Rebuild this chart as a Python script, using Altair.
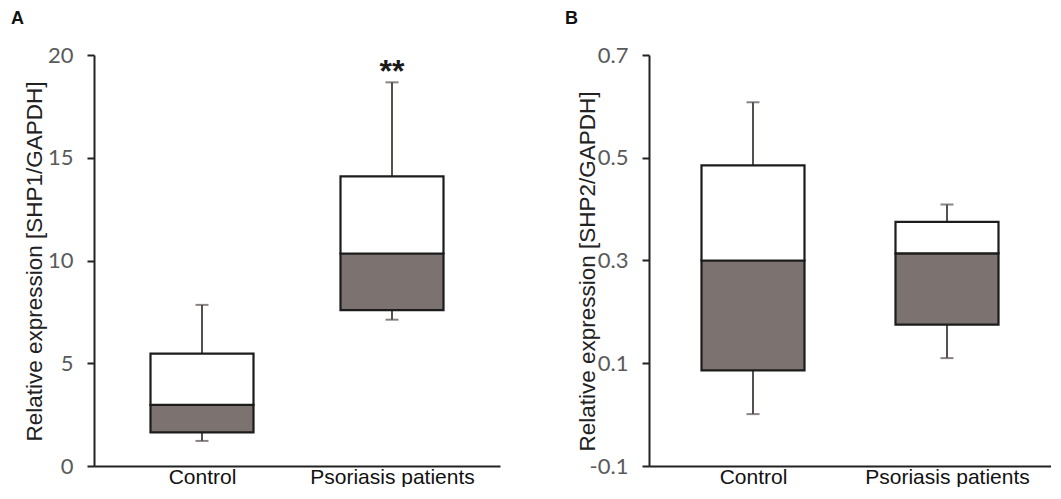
import altair as alt
import pandas as pd

categories = ["Control", "Psoriasis patients"]

a_low = [1.22, 7.12]
a_q1 = [1.64, 7.59]
a_med = [2.97, 10.34]
a_q3 = [5.47, 14.09]
a_high = [7.84, 18.67]
a_sig = ["", "**"]
a_ticks = [0, 5, 10, 15, 20]

b_low = [0.001, 0.11]
b_q1 = [0.086, 0.175]
b_med = [0.300, 0.314]
b_q3 = [0.485, 0.375]
b_high = [0.608, 0.409]
b_sig = ["", ""]
b_ticks = [-0.1, 0.1, 0.3, 0.5, 0.7]

GRAY = "#7c7370"
WHISK = "#57504e"
EDGE = "#1c1c1c"


def panel(letter, low, q1, med, q3, high, sig, ticks, title, fmt, width, height,
          pad, letter_x, letter_y, title_x, title_y):
    df = pd.DataFrame({"cat": categories, "low": low, "q1": q1, "med": med,
                       "q3": q3, "high": high, "sig": sig})
    x = alt.X("cat:N", sort=categories,
              scale=alt.Scale(type="point", padding=pad),
              axis=alt.Axis(title=None, labelAngle=0, ticks=False,
                            labelFont="Liberation Sans", labelFontSize=21,
                            labelColor="#111111", labelPadding=17,
                            labelBaseline="alphabetic",
                            domainColor="#222222", domainWidth=2))
    yscale = alt.Scale(domain=[ticks[0], ticks[-1]], nice=False, zero=False)
    label_expr = ("datum.value < 0 ? '-' + format(-datum.value, '%s') : format(datum.value, '%s')"
                  % (fmt, fmt))
    yaxis = alt.Axis(values=ticks, labelExpr=label_expr, title=title, grid=False,
                     tickSize=7, tickWidth=2, tickColor="#222222",
                     domainColor="#222222", domainWidth=2,
                     labelFont="Lato", labelFontSize=22, labelColor="#5a5a5a",
                     labelPadding=14,
                     titleFont="Liberation Sans", titleFontSize=22.5,
                     titleFontWeight="normal", titleColor="#222222",
                     titleAngle=270, titleBaseline="alphabetic",
                     titleAlign="center", titleX=title_x, titleY=title_y)

    def Y(field):
        return alt.Y(field + ":Q", scale=yscale, axis=yaxis)

    base = alt.Chart(df)
    wt = base.mark_rule(color=WHISK, strokeWidth=2).encode(x=x, y=Y("q3"), y2="high:Q")
    wb = base.mark_rule(color=WHISK, strokeWidth=2).encode(x=x, y=Y("low"), y2="q1:Q")
    ct = base.mark_tick(color=WHISK, size=13, thickness=2).encode(x=x, y=Y("high"))
    cb = base.mark_tick(color=WHISK, size=13, thickness=2).encode(x=x, y=Y("low"))
    lower = base.mark_bar(size=103, fill=GRAY, stroke=EDGE, strokeWidth=2.2).encode(
        x=x, y=Y("q1"), y2="med:Q")
    upper = base.mark_bar(size=103, fill="white", stroke=EDGE, strokeWidth=2.2).encode(
        x=x, y=Y("med"), y2="q3:Q")
    stars = base.mark_text(baseline="alphabetic", dy=-0.5, fontSize=32, fontWeight="bold",
                           font="Liberation Sans", color="#1a1a1a").encode(
        x=x, y=Y("high"), text="sig:N")
    lab = alt.Chart(pd.DataFrame({"t": [letter]})).mark_text(
        align="left", baseline="alphabetic", font="Liberation Sans", fontSize=18,
        fontWeight="bold", color="#111111").encode(
        x=alt.value(letter_x), y=alt.value(letter_y), text="t:N")
    return alt.layer(wt, wb, ct, cb, lower, upper, stars, lab).properties(
        width=width, height=height)


A = panel("A", a_low, a_q1, a_med, a_q3, a_high, a_sig, a_ticks,
          "Relative expression [SHP1/GAPDH]", "d", 406, 411, 108 / 190,
          -83, -31, -53, 206)
B = panel("B", b_low, b_q1, b_med, b_q3, b_high, b_sig, b_ticks,
          "Relative expression [SHP2/GAPDH]", ".1f", 402, 411, 104 / 194,
          -84, -31.5, -55, 216)

chart = alt.HConcatChart(
    hconcat=[A, B], spacing=149, bounds="flush",
    padding={"left": 3, "top": 1, "right": 0, "bottom": 0},
).configure_view(stroke=None)

chart.save("out.html", embed_options={"renderer": "svg", "actions": False})
